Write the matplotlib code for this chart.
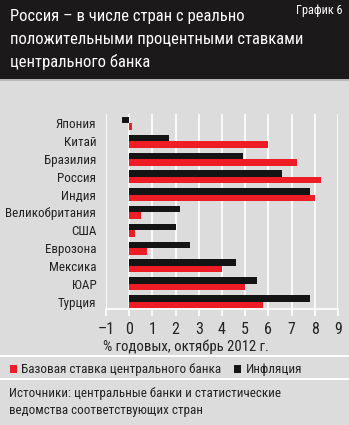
import matplotlib
matplotlib.use("Agg")
import matplotlib.pyplot as plt
from matplotlib import font_manager
from matplotlib.patches import Rectangle
import numpy as np

# Data
countries = ["Япония", "Китай", "Бразилия", "Россия", "Индия", "Великобритания",
             "США", "Еврозона", "Мексика", "ЮАР", "Турция"]
inflation = [-0.3, 1.7, 4.9, 6.6, 7.8, 2.2, 2.0, 2.6, 4.6, 5.5, 7.8]
key_rate = [0.1, 6.0, 7.25, 8.25, 8.0, 0.5, 0.25, 0.75, 4.0, 5.0, 5.75]
xticks = [-1, 0, 1, 2, 3, 4, 5, 6, 7, 8, 9]
xtick_labels = ["–1", "0", "1", "2", "3", "4", "5", "6", "7", "8", "9"]

title_lines = ["Россия – в числе стран с реально",
               "положительными процентными ставками",
               "центрального банка"]
chart_no = "График 6"
xlabel = "% годовых, октябрь 2012 г."
legend_labels = ["Базовая ставка центрального банка", "Инфляция"]
source_lines = ["Источники: центральные банки и статистические",
                "ведомства соответствующих стран"]

# Font
avail = {f.name for f in font_manager.fontManager.ttflist}
fam = None
for cand in ["Liberation Sans Narrow", "DejaVu Sans Condensed", "Roboto Condensed"]:
    if cand in avail:
        fam = cand
        break
if fam is None:
    fam = "DejaVu Sans"
plt.rcParams["font.family"] = [fam, "DejaVu Sans"]

W, H = 349, 425
fig = plt.figure(figsize=(W / 100, H / 100), dpi=100)
bg = "#dcdcdc"
fig.patch.set_facecolor(bg)

def fx(px):
    return px / W

def fy(py):
    return 1 - py / H

# Header
fig.patches.append(Rectangle((0, fy(79)), 1, 79 / H, transform=fig.transFigure,
                             facecolor="#1b1919", edgecolor="none", zorder=0))
fig.patches.append(Rectangle((0, fy(81)), 1, 2 / H, transform=fig.transFigure,
                             facecolor="#b8b8b8", edgecolor="none", zorder=0))
for i, line in enumerate(title_lines):
    fig.text(fx(10), fy(17 + 22.5 * i), line, color="white", fontsize=12.0,
             va="center", ha="left")
fig.text(fx(342), fy(4), chart_no, color="white", fontsize=8.8, va="top", ha="right")

# Axes
left, right = 106, 338
top, bottom = 114, 309
ax = fig.add_axes([fx(left), fy(bottom), (right - left) / W, (bottom - top) / H])
ax.set_facecolor(bg)
n = len(countries)
y = np.arange(n)
bh = 0.365
ax.barh(y - bh / 2, inflation, height=bh, color="#141414", zorder=3)
ax.barh(y + bh / 2, key_rate, height=bh, color="#ee1c25", zorder=3)
ax.set_xlim(-1, 9)
ax.set_ylim(n - 1 + 0.42, -0.53)
ax.set_xticks(xticks)
ax.set_xticklabels(xtick_labels, fontsize=11.5, color="#222222")
ax.set_yticks(y)
ax.set_yticklabels(countries, fontsize=9.4, color="#222222")
ax.tick_params(axis="y", length=0, pad=7)
ax.tick_params(axis="x", length=5, width=1.2, color="white", pad=4)
ax.grid(axis="x", color="white", linewidth=1.2, zorder=1)
for s in ["top", "right", "left"]:
    ax.spines[s].set_visible(False)
ax.spines["bottom"].set_color("white")
ax.spines["bottom"].set_linewidth(1.2)

fig.text(fx(103), fy(347), xlabel, fontsize=10.6, color="#222222", va="center", ha="left")

# Separators
for py in [356, 379]:
    fig.patches.append(Rectangle((0, fy(py + 1)), 1, 2 / H, transform=fig.transFigure,
                                 facecolor="white", edgecolor="none", zorder=0))

# Legend
fig.patches.append(Rectangle((fx(10), fy(373)), 7 / W, 8 / H, transform=fig.transFigure,
                             facecolor="#ee1c25", edgecolor="none"))
fig.text(fx(21), fy(369), legend_labels[0], fontsize=9.5, color="#222222", va="center", ha="left")
fig.patches.append(Rectangle((fx(234), fy(373)), 7 / W, 8 / H, transform=fig.transFigure,
                             facecolor="#141414", edgecolor="none"))
fig.text(fx(246), fy(369), legend_labels[1], fontsize=9.5, color="#222222", va="center", ha="left")

# Source
for i, line in enumerate(source_lines):
    fig.text(fx(9), fy(393 + 17.5 * i), line, fontsize=9.4, color="#222222",
             va="center", ha="left")

fig.savefig("out.png", dpi=100, facecolor=bg)
